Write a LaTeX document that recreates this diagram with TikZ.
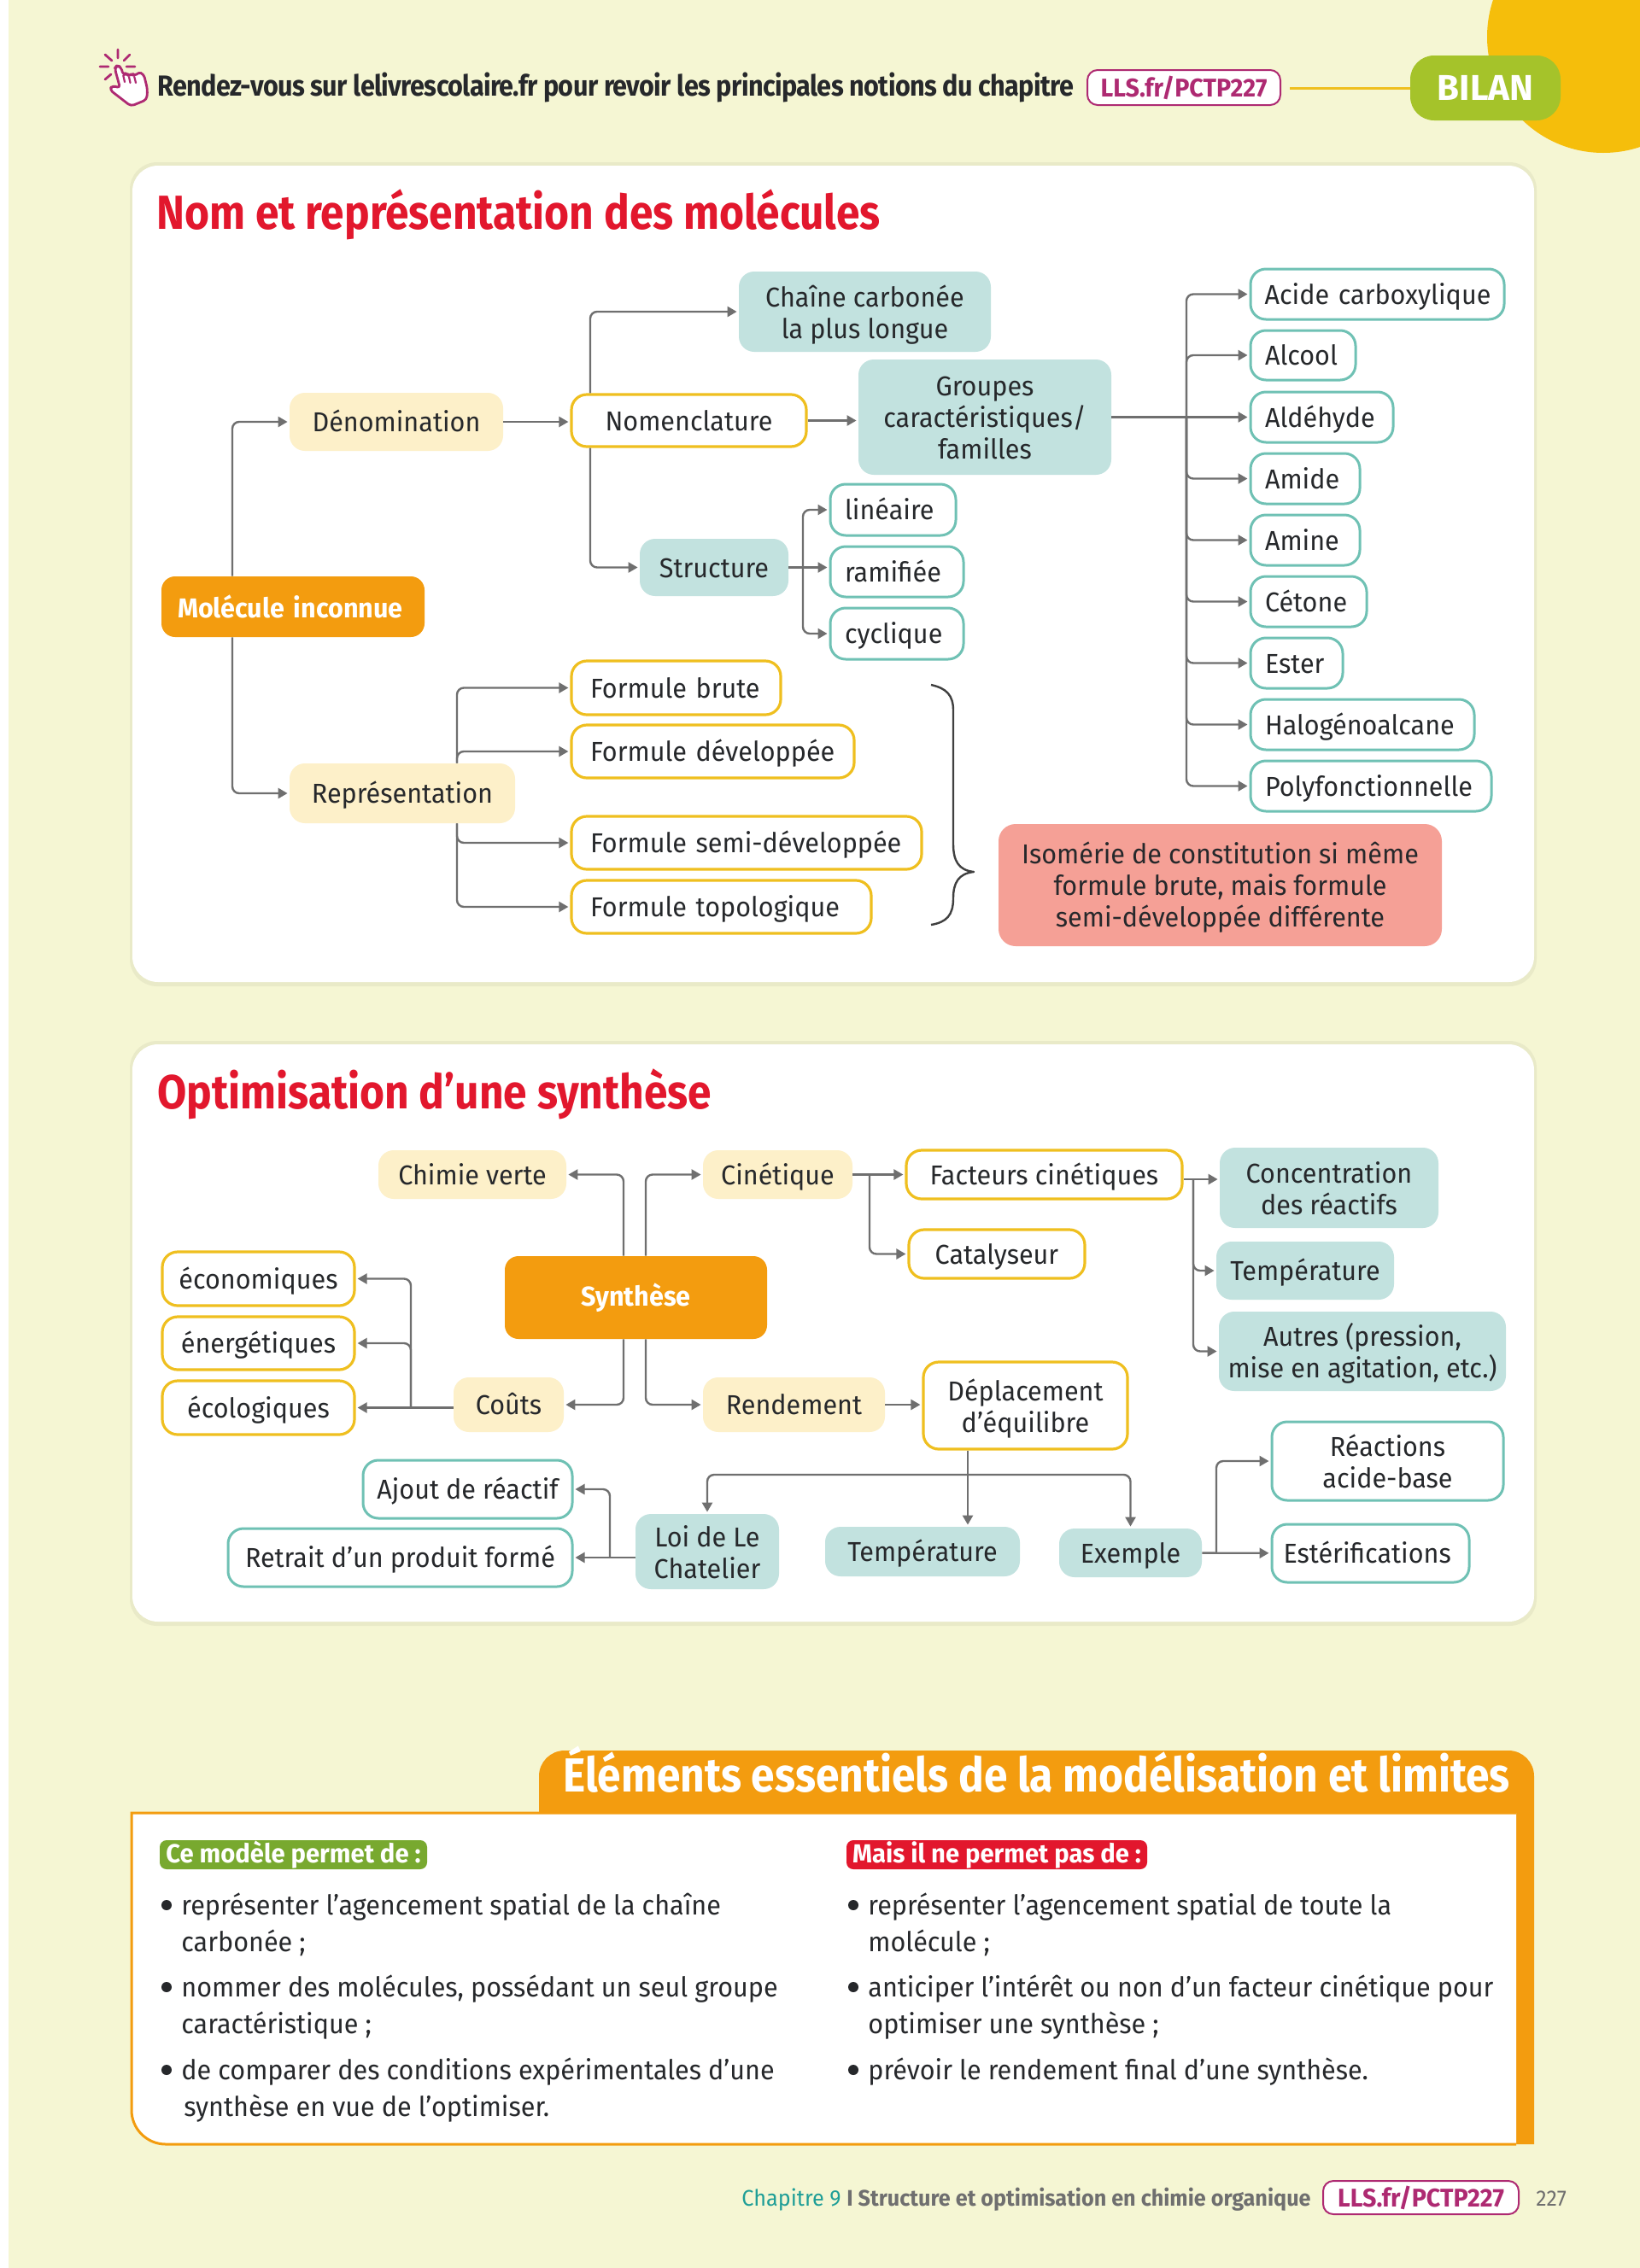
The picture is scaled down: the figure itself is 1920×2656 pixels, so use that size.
\documentclass[tikz,border=0pt]{standalone}
\usepackage{fontspec}
\setmainfont{Fira Sans}
\newfontfamily\condfont[FakeStretch=0.955]{Fira Sans}
\newfontfamily\headfont[FakeStretch=0.887]{Fira Sans}
\newfontfamily\tightfont[FakeStretch=0.9,LetterSpace=-1.8]{Fira Sans}
\usetikzlibrary{arrows.meta, positioning}
\definecolor{pageC}{HTML}{F5F6D3}
\definecolor{sunC}{HTML}{F5BE0B}
\definecolor{limeC}{HTML}{A5C32A}
\definecolor{linkC}{HTML}{AE2A72}
\definecolor{orangeC}{HTML}{F39C0F}
\definecolor{creamC}{HTML}{FDF0C9}
\definecolor{paleC}{HTML}{C2E2DF}
\definecolor{yellowC}{HTML}{EFBF1F}
\definecolor{tealC}{HTML}{6FC1B4}
\definecolor{roseC}{HTML}{F5A096}
\definecolor{redC}{HTML}{E2172D}
\definecolor{greenC}{HTML}{78A92F}
\definecolor{lineC}{HTML}{6F6F6F}
\definecolor{inkC}{HTML}{26282B}
\definecolor{footC}{HTML}{1F9E97}
\begin{document}
\begin{tikzpicture}[
    x=0.5pt, y=-0.5pt,
    wh/.style 2 args={minimum width=#1*0.5pt, minimum height=#2*0.5pt},
    label/.style={inner sep=0pt, align=center, text=inkC, text height=13pt, text depth=1.5pt, font=\condfont\fontsize{16}{18.5}\selectfont},
    multi/.style={text height=#1, text depth=0pt},
    lbx/.style={align=left, text width=#1},
    main/.style={rectangle, rounded corners=8pt, fill=orangeC, inner sep=0pt, align=center, text=white, font=\condfont\bfseries\fontsize{16}{19}\selectfont},
    cream/.style={rectangle, rounded corners=9pt, fill=creamC},
    pale/.style={rectangle, rounded corners=9pt, fill=paleC},
    yellowbox/.style={rectangle, rounded corners=9pt, draw=yellowC, line width=1.6pt, fill=white},
    tealbox/.style={rectangle, rounded corners=9pt, draw=tealC, line width=1.5pt, fill=white},
    arrow/.style={-{Triangle[length=5.5pt, width=6pt]}, draw=lineC, line width=1.2pt, rounded corners=4pt, shorten >=1pt},
    link/.style={rectangle, rounded corners=6pt, draw=linkC, line width=1pt, fill=white, text=linkC, inner sep=0pt, font=\condfont\bfseries\fontsize{15}{17}\selectfont},
    itemtext/.style={inner sep=0pt, anchor=north west, align=left, text=inkC, font=\condfont\fontsize{16}{21.75}\selectfont},
    dotmark/.style={circle, fill=inkC, inner sep=0pt, minimum size=6pt},
    panelshadow/.style={rounded corners=16pt, fill=black!5!pageC},
    panel/.style={rounded corners=15pt, fill=white},
    heading/.style={inner sep=0pt, anchor=base west, text=redC, font=\headfont\bfseries\fontsize{28}{32}\selectfont},
    tag/.style={rectangle, rounded corners=4pt, inner sep=0pt, text=white, font=\condfont\bfseries\fontsize{15.3}{17}\selectfont}
]
\useasboundingbox (0,0) rectangle (1920,2656);
\fill[pageC] (0,0) rectangle (1920,2656);
\fill[white] (0,0) rectangle (10,2656);
\begin{scope}
\clip (0,0) rectangle (1920,2656);
\fill[sunC] (1877,43) circle (68pt);
\end{scope}

% header
\draw[yellowC, line width=1.5pt] (1510,103) -- (1651,103);
\node[rectangle, rounded corners=14pt, fill=limeC, text=white, wh={176}{76}, inner sep=0pt, font=\bfseries\fontsize{21}{24}\selectfont] (bilan) at (1739,103) {BILAN};
\node[link, wh={226}{41}] (toplink) at (1386,102.5) {LLS.fr/PCTP227};
\node[inner sep=0pt, anchor=base west, text=inkC, font=\tightfont\bfseries\fontsize{17}{20}\selectfont] (toptext) at (184,112) {Rendez-vous sur lelivrescolaire.fr pour revoir les principales notions du chapitre};
\draw[linkC, line width=1.4pt, line cap=round] (138,58) -- (138,68) (123,64) -- (131,71) (152,64) -- (145,71) (117,78) -- (127,78) (148,78) -- (158,78) (123,93) -- (130,87);
\draw[linkC, line width=1.4pt, fill=white, rounded corners=2pt, line join=round] (136.7,76.7) -- (141.7,78.3) -- (144.3,88.3) -- (148.3,85) -- (151,90) -- (155,85) -- (157.3,90) -- (161.7,84.3) -- (168.3,86.7) -- (172.7,105) -- (171.7,116.7) -- (153.3,124.3) -- (128.3,105) -- (131.7,100) -- (140.7,103.3) -- (134.3,80) -- cycle;
\draw[linkC, line width=1.1pt, line cap=round] (144.3,88.3) -- (146,96) (151,90) -- (152.5,97) (157.3,90) -- (159,97);

% panels
\fill[panelshadow] (152,190) rectangle (1799,1155);
\fill[panel] (155,194) rectangle (1796,1150);
\fill[panelshadow] (152,1219) rectangle (1799,1904);
\fill[panel] (155,1223) rectangle (1796,1899);
\node[heading] (title1) at (183,268) {Nom et représentation des molécules};
\node[heading] (title2) at (184,1298) {Optimisation d’une synthèse};

% nom et representation
\node[main, lbx=135pt, wh={308}{71}] (mol) at (343,710.5) {Molécule inconnue};
\node[cream, label, wh={250}{68}] (denom) at (464,494) {Dénomination};
\node[yellowbox, label, wh={275}{61}] (nomen) at (806.5,492.5) {Nomenclature};
\node[pale, label, multi=31pt, wh={295}{94}] (chaine) at (1012.5,365) {Chaîne carbonée\\la plus longue};
\node[pale, label, multi=49pt, wh={296}{135}] (groupes) at (1153,488.5) {Groupes\\caractéristiques/\\familles};
\node[pale, label, wh={174}{67}] (structure) at (836,664.5) {Structure};
\node[tealbox, label, lbx=56.5pt, wh={147}{60}] (lineaire) at (1045.5,597) {linéaire};
\node[tealbox, label, lbx=61pt, wh={156}{59}] (ramifiee) at (1050,669.5) {ramifiée};
\node[tealbox, label, lbx=61pt, wh={156}{60}] (cyclique) at (1050,742) {cyclique};
\node[cream, label, wh={264}{70}] (repres) at (471,929) {Représentation};
\node[yellowbox, label, lbx=100.5pt, wh={245}{63}] (fbrute) at (791.5,805.5) {Formule brute};
\node[yellowbox, label, lbx=143.5pt, wh={331}{62}] (fdev) at (834.5,880) {Formule développée};
\node[yellowbox, label, lbx=183pt, wh={410}{62}] (fsemi) at (874,987) {\mbox{Formule semi-développée}};
\node[yellowbox, label, lbx=153.5pt, wh={351}{62}] (ftopo) at (844.5,1062) {Formule topologique};
\node[rectangle, rounded corners=10pt, fill=roseC, label, multi=49pt, wh={519}{143}] (isomerie) at (1428.5,1036.5) {Isomérie de constitution si même\\formule brute, mais formule\\semi-développée différente};
\node[tealbox, label, lbx=132pt, wh={297}{59}] (acide) at (1612.5,344.5) {\mbox{Acide carboxylique}};
\node[tealbox, label, lbx=44.5pt, wh={123}{58}] (alcool) at (1525.5,416) {Alcool};
\node[tealbox, label, lbx=66.5pt, wh={167}{59}] (aldehyde) at (1547.5,488.5) {Aldéhyde};
\node[tealbox, label, lbx=47pt, wh={128}{59}] (amide) at (1528,560.5) {Amide};
\node[tealbox, label, lbx=47pt, wh={128}{59}] (amine) at (1528,632.5) {Amine};
\node[tealbox, label, lbx=51pt, wh={136}{59}] (cetone) at (1532,704.5) {Cétone};
\node[tealbox, label, lbx=37pt, wh={108}{59}] (ester) at (1518,776.5) {Ester};
\node[tealbox, label, lbx=114pt, wh={262}{59}] (halogeno) at (1595,848.5) {Halogénoalcane};
\node[tealbox, label, lbx=124pt, wh={282}{59}] (poly) at (1605,920.5) {Polyfonctionnelle};

\coordinate (busMol) at (272,0);
\coordinate (busNom) at (691,0);
\coordinate (busStr) at (940,0);
\coordinate (busRep) at (535,0);
\coordinate (busGrp) at (1389,0);
\draw[arrow] (busMol |- mol.north) |- (denom.west);
\draw[arrow] (busMol |- mol.south) |- (repres.west);
\draw[arrow] (denom.east) -- (nomen.west |- denom.east);
\draw[arrow] (busNom |- nomen.north) |- (chaine.west);
\draw[arrow] (busNom |- nomen.south) |- (structure.west);
\draw[arrow] (nomen.east) -- (groupes.west |- nomen.east);
\draw[arrow] (busStr |- structure.east) |- (lineaire.west);
\draw[arrow] (structure.east) -- (ramifiee.west |- structure.east);
\draw[arrow] (busStr |- structure.east) |- (cyclique.west);
\draw[arrow] (busRep |- repres.north) |- (fbrute.west);
\draw[arrow] (busRep |- repres.north) |- (fdev.west);
\draw[arrow] (busRep |- repres.south) |- (fsemi.west);
\draw[arrow] (busRep |- repres.south) |- (ftopo.west);
\draw[arrow] (groupes) -- (aldehyde);
\draw[arrow] (busGrp |- groupes.east) |- (acide.west);
\draw[arrow] (busGrp |- groupes.east) |- (alcool.west);
\draw[arrow] (busGrp |- groupes.east) |- (amide.west);
\draw[arrow] (busGrp |- groupes.east) |- (amine.west);
\draw[arrow] (busGrp |- groupes.east) |- (cetone.west);
\draw[arrow] (busGrp |- groupes.east) |- (ester.west);
\draw[arrow] (busGrp |- groupes.east) |- (halogeno.west);
\draw[arrow] (busGrp |- groupes.east) |- (poly.west);
\draw[draw=black!75, line width=1.2pt, line join=round] (1090,802) .. controls (1108,806) and (1116,814) .. (1116,832) -- (1116,988) .. controls (1116,1008) and (1122,1019) .. (1140,1021) .. controls (1122,1023) and (1116,1034) .. (1116,1052) .. controls (1116,1072) and (1108,1080) .. (1090,1083);

% optimisation
\node[main, wh={307}{97}] (synth) at (744.5,1519.5) {Synthèse};
\node[cream, label, wh={220}{57}] (chimie) at (553,1375.5) {Chimie verte};
\node[cream, label, wh={175}{57}] (cinet) at (910.5,1375.5) {Cinétique};
\node[cream, label, wh={129}{64}] (couts) at (595.5,1645) {Coûts};
\node[cream, label, wh={213}{64}] (rend) at (929.5,1645) {Rendement};
\node[yellowbox, label, wh={225}{63}] (econ) at (302.5,1497.5) {économiques};
\node[yellowbox, label, wh={225}{62}] (ener) at (302.5,1573) {énergétiques};
\node[yellowbox, label, wh={225}{63}] (ecol) at (302.5,1648.5) {écologiques};
\node[yellowbox, label, wh={323}{57}] (fact) at (1222.5,1375.5) {Facteurs cinétiques};
\node[yellowbox, label, wh={206}{57}] (cata) at (1167,1468.5) {Catalyseur};
\node[yellowbox, label, multi=31pt, wh={239}{102}] (depl) at (1200.5,1646) {Déplacement\\d’équilibre};
\node[pale, label, multi=31pt, wh={256}{94}] (conc) at (1556,1391) {Concentration\\des réactifs};
\node[pale, label, wh={208}{68}] (temp) at (1528,1488) {Température};
\node[pale, label, multi=31pt, wh={336}{93}] (autres) at (1595,1582.5) {Autres (pression,\\mise en agitation, etc.)};
\node[tealbox, label, wh={245}{68}] (ajout) at (547.5,1744) {Ajout de réactif};
\node[tealbox, label, wh={403}{68}] (retrait) at (468.5,1824) {Retrait d’un produit formé};
\node[pale, label, multi=31pt, wh={168}{88}] (loi) at (828,1817) {Loi de Le\\Chatelier};
\node[pale, label, wh={228}{58}] (tempb) at (1080,1817) {Température};
\node[pale, label, wh={167}{57}] (exemple) at (1323.5,1818.5) {Exemple};
\node[tealbox, label, multi=31pt, wh={271}{92}] (react) at (1624.5,1711) {Réactions\\acide-base};
\node[tealbox, label, lbx=102pt, wh={231}{68}] (ester2) at (1604.5,1819) {Estérifications};

\coordinate (busL) at (730,0);
\coordinate (busR) at (756,0);
\coordinate (busC) at (481,0);
\coordinate (busK) at (1018,0);
\coordinate (factOut) at (1397,1381);
\coordinate (busLoi) at (714,0);
\coordinate (busEx) at (1424,0);
\coordinate (busD) at (1133,1727);
\draw[arrow] (busL |- synth.north) |- (chimie.east);
\draw[arrow] (busR |- synth.north) |- (cinet.west);
\draw[arrow] (busL |- synth.south) |- (couts.east);
\draw[arrow] (busR |- synth.south) |- (rend.west);
\draw[arrow] (couts.west |- ecol.east) -- (ecol.east);
\draw[arrow] (busC |- ecol.east) |- (econ.east);
\draw[arrow] (busC |- ecol.east) |- (ener.east);
\draw[arrow] (cinet) -- (fact);
\draw[arrow] (busK |- cinet.east) |- (cata.west);
\draw[arrow] (fact.east |- factOut) -- (conc.west |- factOut);
\draw[arrow] (factOut) |- (temp.west);
\draw[arrow] (factOut) |- (autres.west);
\draw[arrow] (rend.east) -- (depl.west |- rend.east);
\draw[arrow] (busD |- depl.south) -- (busD |- tempb.north);
\draw[arrow] (busD) -| (loi.north);
\draw[arrow] (busD) -| (exemple.north);
\draw[arrow] (loi.west |- retrait.east) -- (retrait.east);
\draw[arrow] (busLoi |- retrait.east) |- (ajout.east);
\draw[arrow] (exemple) -- (ester2);
\draw[arrow] (busEx |- ester2.west) |- (react.west);

% modelisation
\fill[orangeC] (631,2124) [rounded corners=15pt] -- (631,2050) -- (1796,2050) [sharp corners] -- (1796,2511) -- (1775,2511) -- (1775,2124) -- cycle;
\draw[orangeC, line width=1.5pt, fill=white] (1775,2123) -- (154,2123) [rounded corners=20pt] -- (154,2511) [sharp corners] -- (1775,2511);
\node[inner sep=0pt, anchor=base west, text=white, font=\headfont\bfseries\fontsize{28}{32}\selectfont] (title3) at (659,2098) {Éléments essentiels de la modélisation et limites};
\node[tag, fill=greenC, wh={313}{34}] (oui) at (343.5,2172) {Ce modèle permet de :};
\node[tag, fill=redC, wh={352}{34}] (non) at (1167,2172) {Mais il ne permet pas de :};
\node[dotmark] (d1) at (195,2231) {};
\node[dotmark] (d2) at (195,2327) {};
\node[dotmark] (d3) at (195,2424) {};
\node[dotmark] (d4) at (999,2231) {};
\node[dotmark] (d5) at (999,2327) {};
\node[dotmark] (d6) at (999,2424) {};
\node[itemtext] (i1) at (212,2216) {représenter l’agencement spatial de la chaîne\\carbonée ;};
\node[itemtext] (i2) at (212,2312) {nommer des molécules, possédant un seul groupe\\caractéristique ;};
\node[itemtext] (i3) at (212,2409) {de comparer des conditions expérimentales d’une\\\hspace{1.5pt}synthèse en vue de l’optimiser.};
\node[itemtext] (i4) at (1016,2216) {représenter l’agencement spatial de toute la\\molécule ;};
\node[itemtext] (i5) at (1016,2312) {anticiper l’intérêt ou non d’un facteur cinétique pour\\optimiser une synthèse ;};
\node[itemtext] (i6) at (1016,2409) {prévoir le rendement final d’une synthèse.};

% footer
\node[inner sep=0pt, anchor=base east, font=\condfont\fontsize{13.2}{16}\selectfont, text=lineC] (foot) at (1535,2583) {{\color{footC}Chapitre 9} \textbf{I Structure et optimisation en chimie organique}};
\node[link, wh={229}{39}] (botlink) at (1663.5,2573.5) {LLS.fr/PCTP227};
\node[inner sep=0pt, anchor=base west, font=\condfont\fontsize{13}{15}\selectfont, text=lineC] (pagenum) at (1798,2583) {227};
\end{tikzpicture}
\end{document}
